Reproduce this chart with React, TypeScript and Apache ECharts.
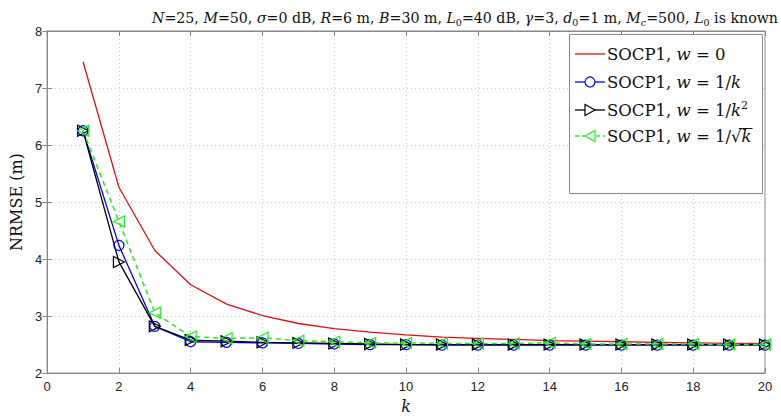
import React, { useEffect, useRef } from "react";
import * as echarts from "echarts";

const ks = [1, 2, 3, 4, 5, 6, 7, 8, 9, 10, 11, 12, 13, 14, 15, 16, 17, 18, 19, 20];
const w0 = [7.46, 5.26, 4.15, 3.55, 3.21, 3.01, 2.87, 2.78, 2.72, 2.67, 2.63, 2.61, 2.59, 2.57, 2.56, 2.55, 2.54, 2.53, 2.52, 2.52];
const wInvK = [6.25, 4.24, 2.82, 2.55, 2.54, 2.53, 2.52, 2.51, 2.5, 2.5, 2.49, 2.49, 2.49, 2.49, 2.49, 2.49, 2.49, 2.49, 2.49, 2.49];
const wInvK2 = [6.25, 3.95, 2.82, 2.58, 2.56, 2.54, 2.53, 2.52, 2.51, 2.5, 2.5, 2.5, 2.5, 2.5, 2.5, 2.5, 2.5, 2.5, 2.5, 2.5];
const wInvSqrtK = [6.25, 4.66, 3.06, 2.64, 2.61, 2.62, 2.57, 2.55, 2.53, 2.53, 2.52, 2.52, 2.52, 2.53, 2.51, 2.51, 2.51, 2.51, 2.5, 2.5];
const legendLabels = [
  "{r|SOCP1, }{i|w}{r| = 0}",
  "{r|SOCP1, }{i|w}{r| = 1/}{i|k}",
  "{r|SOCP1, }{i|w}{r| = 1/}{i|k}{sup|2}",
  "{r|SOCP1, }{i|w}{r| = 1/√}{i|k}",
];

const SERIF = "DejaVu Serif";
const SANS = "'Liberation Sans', Arial, sans-serif";
const RED = "#e01010";
const BLUE = "#0000ee";
const BLACK = "#000";
const GREEN = "#22ee22";

function measure(text: string, font: string): number {
  const c = document.createElement("canvas").getContext("2d");
  if (!c) return text.length * 9;
  c.font = font;
  return c.measureText(text).width;
}

export default function App() {
  const ref = useRef<HTMLDivElement>(null);
  useEffect(() => {
    const chart = echarts.init(ref.current!, null, { renderer: "svg" });
    const mk = (arr: number[]) => ks.map((k, i) => [k, arr[i]]);
    const FS = 14.2;
    const titleRich = {
      r: { fontFamily: SERIF, fontSize: FS, color: "#111" },
      i: { fontFamily: SERIF, fontSize: FS, fontStyle: "italic", color: "#111" },
      s: { fontFamily: SERIF, fontSize: 9.5, fontStyle: "italic", color: "#111", padding: [8, 0, 0, 0] },
      s0: { fontFamily: SERIF, fontSize: 9.5, color: "#111", padding: [8, 0, 0, 0] },
    };
    const LF = 16.5;
    const legRich = {
      r: { fontFamily: SERIF, fontSize: LF, color: "#111", lineHeight: 20 },
      i: { fontFamily: SERIF, fontSize: LF, fontStyle: "italic", color: "#111", lineHeight: 20 },
      sup: { fontFamily: SERIF, fontSize: 11, color: "#111", padding: [0, 0, 9, 0], lineHeight: 20 },
    };
    const lx0 = 575, lx1 = 605, mx = 590, tx = 607;
    const ys = [54, 82, 110, 136];
    const legendEls: any[] = [
      {
        type: "rect",
        shape: { x: 569.5, y: 34.5, width: 193, height: 159 },
        style: { fill: "#fff", stroke: "#888", lineWidth: 1 },
        z: 1,
      },
    ];
    const colors = [RED, BLUE, BLACK, GREEN];
    ys.forEach((y, idx) => {
      legendEls.push({
        type: "line",
        shape: { x1: lx0, y1: y, x2: lx1, y2: y },
        style: { stroke: colors[idx], lineWidth: 1.3, lineDash: idx === 3 ? [4, 3] : null },
        z: 2,
      });
    });
    legendEls.push({
      type: "circle",
      shape: { cx: mx, cy: ys[1], r: 5 },
      style: { fill: "#fff", stroke: BLUE, lineWidth: 1.2 },
      z: 3,
    });
    legendEls.push({
      type: "polygon",
      shape: { points: [[mx - 5, ys[2] - 5.5], [mx - 5, ys[2] + 5.5], [mx + 5, ys[2]]] },
      style: { fill: "#fff", stroke: BLACK, lineWidth: 1.2 },
      z: 3,
    });
    legendEls.push({
      type: "polygon",
      shape: { points: [[mx + 5, ys[3] - 5.5], [mx + 5, ys[3] + 5.5], [mx - 5, ys[3]]] },
      style: { fill: "#fff", stroke: GREEN, lineWidth: 1.2 },
      z: 3,
    });
    // overline of the square root
    const fR = `${LF}px "${SERIF}"`;
    const fI = `italic ${LF}px "${SERIF}"`;
    const pre = measure("SOCP1, ", fR) + measure("w", fI) + measure(" = 1/", fR);
    const sq = measure("√", fR);
    const kw = measure("k", fI);
    legendEls.push({
      type: "line",
      shape: { x1: tx + pre + sq * 0.75, y1: ys[3] - 7.5, x2: tx + pre + sq + kw + 1, y2: ys[3] - 7.5 },
      style: { stroke: "#111", lineWidth: 1 },
      z: 12,
    });

    const legendTitles = legendLabels.map((t, idx) => ({
      text: t,
      left: tx,
      top: ys[idx] - 10,
      padding: 0,
      z: 10,
      textStyle: { rich: legRich, fontFamily: SERIF, fontSize: LF, fontWeight: "normal", lineHeight: 20 },
    }));

    chart.setOption({
      animation: false,
      backgroundColor: "#fff",
      title: [
        {
          text:
            "{i|N}{r|=25, }{i|M}{r|=50, }{i|σ}{r|=0 dB, }{i|R}{r|=6 m, }{i|B}{r|=30 m, }{i|L}{s0|0}{r|=40 dB, }{i|γ}{r|=3, }{i|d}{s0|0}{r|=1 m, }{i|M}{s|c}{r|=500, }{i|L}{s0|0}{r| is known}",
          left: 460,
          top: 4,
          textAlign: "center",
          textStyle: { rich: titleRich, fontFamily: SERIF, fontSize: FS, fontWeight: "normal" },
        },
        ...legendTitles,
      ],
      grid: { left: 39, right: 16, top: 31, bottom: 39, show: true, borderColor: "#888", borderWidth: 1, backgroundColor: "transparent" },
      graphic: legendEls,
      xAxis: [
        {
          type: "value",
          min: 0,
          max: 20,
          interval: 2,
          name: "k",
          nameLocation: "middle",
          nameGap: 21,
          nameTextStyle: { fontFamily: SERIF, fontStyle: "italic", fontSize: 16, color: "#111" },
          axisLine: { show: true, lineStyle: { color: "#888" } },
          axisTick: { show: true, inside: true, length: 5, lineStyle: { color: "#888" } },
          axisLabel: { fontFamily: SANS, fontSize: 13, color: "#222", margin: 7 },
          splitLine: { show: true, lineStyle: { color: "#c8c8c8", type: [1, 3], width: 1 } },
        },
        {
          type: "value",
          position: "top",
          min: 0,
          max: 20,
          interval: 2,
          axisLine: { show: true, lineStyle: { color: "#888" } },
          axisTick: { show: true, inside: true, length: 5, lineStyle: { color: "#888" } },
          axisLabel: { show: false },
          splitLine: { show: false },
        },
      ],
      yAxis: [
        {
          type: "value",
          min: 2,
          max: 8,
          interval: 1,
          name: "NRMSE (m)",
          nameLocation: "middle",
          nameGap: 20,
          nameTextStyle: { fontFamily: SERIF, fontSize: 16, color: "#111" },
          axisLine: { show: true, lineStyle: { color: "#888" } },
          axisTick: { show: true, inside: true, length: 5, lineStyle: { color: "#888" } },
          axisLabel: { fontFamily: SANS, fontSize: 13, color: "#222", margin: 5 },
          splitLine: { show: true, lineStyle: { color: "#c8c8c8", type: [1, 3], width: 1 } },
        },
        {
          type: "value",
          position: "right",
          min: 2,
          max: 8,
          interval: 1,
          axisLine: { show: true, lineStyle: { color: "#888" } },
          axisTick: { show: true, inside: true, length: 5, lineStyle: { color: "#888" } },
          axisLabel: { show: false },
          splitLine: { show: false },
        },
      ],
      series: [
        {
          name: "w0",
          type: "line",
          data: mk(w0),
          symbol: "none",
          lineStyle: { color: RED, width: 1.3 },
          itemStyle: { color: RED },
        },
        {
          name: "wk",
          type: "line",
          data: mk(wInvK),
          symbol: "circle",
          symbolSize: 10,
          lineStyle: { color: BLUE, width: 1.3 },
          itemStyle: { color: "transparent", borderColor: BLUE, borderWidth: 1.2 },
        },
        {
          name: "wk2",
          type: "line",
          data: mk(wInvK2),
          symbol: "triangle",
          symbolRotate: -90,
          symbolSize: 11,
          lineStyle: { color: BLACK, width: 1.3 },
          itemStyle: { color: "transparent", borderColor: BLACK, borderWidth: 1.2 },
        },
        {
          name: "wsk",
          type: "line",
          data: mk(wInvSqrtK),
          symbol: "triangle",
          symbolRotate: 90,
          symbolSize: 11,
          lineStyle: { color: GREEN, width: 1.5, type: [5, 4] },
          itemStyle: { color: "transparent", borderColor: GREEN, borderWidth: 1.2 },
        },
      ],
    });
    return () => chart.dispose();
  }, []);
  return <div ref={ref} style={{ width: 781, height: 419, position: "absolute", left: 0, top: 0 }} />;
}
